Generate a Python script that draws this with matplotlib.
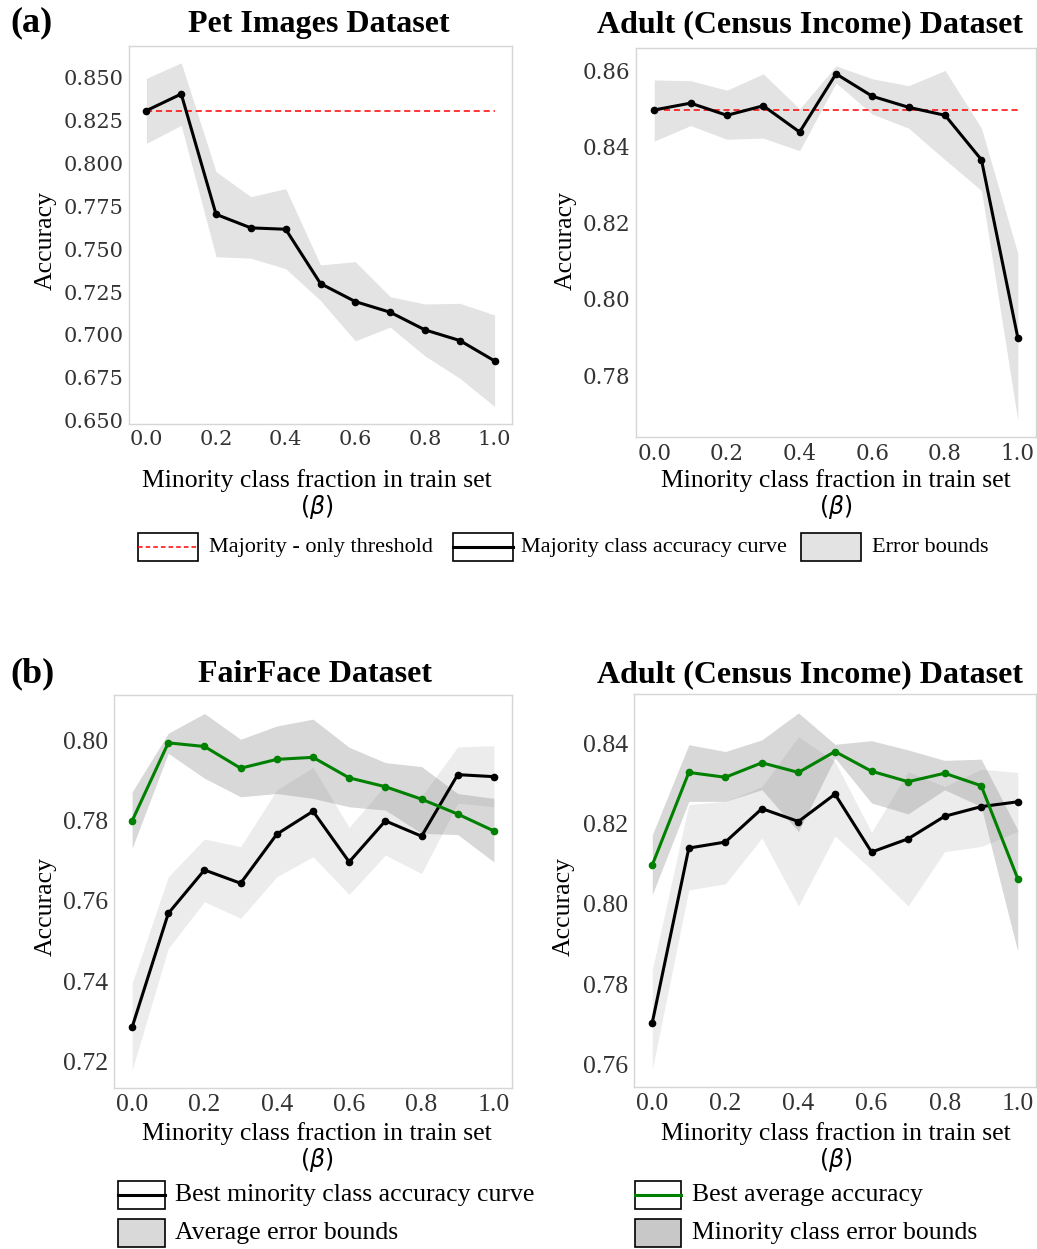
import matplotlib
matplotlib.use('Agg')
import matplotlib.pyplot as plt
from matplotlib.patches import Rectangle
from matplotlib.lines import Line2D
import numpy as np

W, H = 1037, 1249

plt.rcParams['font.family'] = ['Liberation Serif', 'DejaVu Serif']
plt.rcParams['mathtext.fontset'] = 'dejavusans'

# minority class fraction in train set
beta = [0.0, 0.1, 0.2, 0.3, 0.4, 0.5, 0.6, 0.7, 0.8, 0.9, 1.0]

# (a) Pet Images
pet_acc = [0.8308, 0.8405, 0.7703, 0.7624, 0.7616, 0.7299, 0.7194, 0.7132, 0.7029, 0.6967, 0.6848]
pet_upper = [0.8496, 0.8587, 0.7952, 0.7806, 0.7853, 0.7408, 0.7427, 0.7223, 0.7180, 0.7184, 0.7116]
pet_lower = [0.8117, 0.8222, 0.7456, 0.7447, 0.7386, 0.7200, 0.6965, 0.7045, 0.6877, 0.6747, 0.6582]
pet_threshold = 0.8305

# (a) Adult
adult_acc = [0.8497, 0.8515, 0.8483, 0.8508, 0.8439, 0.8592, 0.8533, 0.8504, 0.8483, 0.8366, 0.7898]
adult_upper = [0.8576, 0.8574, 0.8549, 0.8592, 0.8500, 0.8613, 0.8579, 0.8561, 0.8601, 0.8449, 0.8120]
adult_lower = [0.8415, 0.8456, 0.8420, 0.8423, 0.8390, 0.8568, 0.8486, 0.8449, 0.8366, 0.8285, 0.7680]
adult_threshold = 0.8497

# (b) FairFace
ff_avg = [0.7799, 0.7993, 0.7984, 0.7930, 0.7952, 0.7957, 0.7906, 0.7884, 0.7853, 0.7816, 0.7774]
ff_avg_upper = [0.7871, 0.8017, 0.8066, 0.8002, 0.8035, 0.8052, 0.7982, 0.7944, 0.7934, 0.7867, 0.7855]
ff_avg_lower = [0.7731, 0.7967, 0.7905, 0.7859, 0.7867, 0.7855, 0.7834, 0.7826, 0.7768, 0.7765, 0.7697]
ff_min = [0.7286, 0.7569, 0.7677, 0.7644, 0.7766, 0.7823, 0.7697, 0.7799, 0.7761, 0.7914, 0.7909]
ff_min_upper = [0.7395, 0.7660, 0.7754, 0.7735, 0.7876, 0.7932, 0.7783, 0.7888, 0.7860, 0.7983, 0.7986]
ff_min_lower = [0.7179, 0.7482, 0.7598, 0.7557, 0.7660, 0.7710, 0.7616, 0.7714, 0.7668, 0.7843, 0.7834]

# (b) Adult
ab_avg = [0.8097, 0.8327, 0.8315, 0.8351, 0.8327, 0.8379, 0.8330, 0.8304, 0.8325, 0.8294, 0.8063]
ab_avg_upper = [0.8172, 0.8396, 0.8379, 0.8408, 0.8475, 0.8397, 0.8406, 0.8383, 0.8357, 0.8360, 0.8184]
ab_avg_lower = [0.8023, 0.8255, 0.8255, 0.8284, 0.8180, 0.8363, 0.8251, 0.8224, 0.8284, 0.8242, 0.7882]
ab_min = [0.7705, 0.8139, 0.8154, 0.8237, 0.8205, 0.8273, 0.8129, 0.8162, 0.8218, 0.8242, 0.8254]
ab_min_upper = [0.7836, 0.8247, 0.8255, 0.8292, 0.8416, 0.8354, 0.8178, 0.8329, 0.8292, 0.8335, 0.8327]
ab_min_lower = [0.7588, 0.8035, 0.8050, 0.8164, 0.7995, 0.8169, 0.8085, 0.7995, 0.8130, 0.8143, 0.8180]

x_ticks = [0.0, 0.2, 0.4, 0.6, 0.8, 1.0]
pet_yticks = [0.650, 0.675, 0.700, 0.725, 0.750, 0.775, 0.800, 0.825, 0.850]
adult_yticks = [0.78, 0.80, 0.82, 0.84, 0.86]
ff_yticks = [0.72, 0.74, 0.76, 0.78, 0.80]
ab_yticks = [0.76, 0.78, 0.80, 0.82, 0.84]

fig = plt.figure(figsize=(W / 100, H / 100), dpi=100)


def add_axes(l, t, r, b):
    return fig.add_axes([l / W, 1 - b / H, (r - l) / W, (b - t) / H])


def put(x, y, s, **kw):
    fig.text(x / W, 1 - y / H, s, **kw)


def style(ax, yticks, yfmt, ylim, font, size):
    ax.set_xlim(-0.05, 1.05)
    ax.set_ylim(*ylim)
    ax.set_xticks(x_ticks)
    ax.set_xticklabels(['%.1f' % v for v in x_ticks])
    ax.set_yticks(yticks)
    ax.set_yticklabels([yfmt % v for v in yticks])
    ax.tick_params(length=0, pad=4, labelsize=size, labelcolor='#333333')
    for lab in ax.get_xticklabels() + ax.get_yticklabels():
        lab.set_fontfamily(font)
    for sp in ax.spines.values():
        sp.set_color('#d6d6d6')
        sp.set_linewidth(1.0)


line_kw = dict(lw=2.2, marker='o', ms=4.5)

# (a) left
ax1 = add_axes(129, 46, 512, 424)
ax1.fill_between(beta, pet_lower, pet_upper, color='gray', alpha=0.22, lw=0)
ax1.plot([beta[0], beta[-1]], [pet_threshold, pet_threshold], color='red', ls=(0, (4, 2.5)), lw=1.1)
ax1.plot(beta, pet_acc, color='black', **line_kw)
style(ax1, pet_yticks, '%.3f', (0.648, 0.8685), 'DejaVu Serif', 15)

# (a) right
ax2 = add_axes(636, 48, 1036, 437)
ax2.fill_between(beta, adult_lower, adult_upper, color='gray', alpha=0.22, lw=0)
ax2.plot([beta[0], beta[-1]], [adult_threshold, adult_threshold], color='red', ls=(0, (4, 2.5)), lw=1.1)
ax2.plot(beta, adult_acc, color='black', **line_kw)
style(ax2, adult_yticks, '%.2f', (0.7637, 0.866), 'DejaVu Serif', 15.5)

# (b) left
ax3 = add_axes(114, 695, 512, 1088)
ax3.fill_between(beta, ff_min_lower, ff_min_upper, color='gray', alpha=0.15, lw=0)
ax3.fill_between(beta, ff_avg_lower, ff_avg_upper, color='gray', alpha=0.3, lw=0)
ax3.plot(beta, ff_min, color='black', **line_kw)
ax3.plot(beta, ff_avg, color='green', **line_kw)
style(ax3, ff_yticks, '%.2f', (0.7135, 0.8112), 'Liberation Serif', 18.5)

# (b) right
ax4 = add_axes(634, 694, 1036, 1087)
ax4.fill_between(beta, ab_min_lower, ab_min_upper, color='gray', alpha=0.15, lw=0)
ax4.fill_between(beta, ab_avg_lower, ab_avg_upper, color='gray', alpha=0.3, lw=0)
ax4.plot(beta, ab_min, color='black', **line_kw)
ax4.plot(beta, ab_avg, color='green', **line_kw)
style(ax4, ab_yticks, '%.2f', (0.7545, 0.8522), 'Liberation Serif', 18.5)

# titles and labels
title_kw = dict(fontsize=23, fontweight='bold', ha='center', va='baseline')
put(319, 32, 'Pet Images Dataset', **title_kw)
put(810, 32, 'Adult (Census Income) Dataset', **title_kw)
put(315, 682, 'FairFace Dataset', **title_kw)
put(810, 682, 'Adult (Census Income) Dataset', **title_kw)
put(10, 31, '(a)', fontsize=26, fontweight='bold', ha='left', va='baseline')
put(10, 682, '(b)', fontsize=26, fontweight='bold', ha='left', va='baseline')

for (x, y) in [(46, 241), (566, 241), (46, 906), (564, 906)]:
    put(x, y, 'Accuracy', fontsize=18.5, rotation=90, ha='center', va='center')

for (x, y) in [(317, 481), (836, 481), (317, 1134), (836, 1134)]:
    put(x, y, 'Minority class fraction in train set', fontsize=18.5, ha='center', va='center')
    put(x, y + 26, r'$(\beta)$', fontsize=17, ha='center', va='center')

# legends drawn on an overlay in pixel coordinates
ov = fig.add_axes([0, 0, 1, 1])
ov.set_xlim(0, W)
ov.set_ylim(H, 0)
ov.axis('off')


def legend_box(x, y, w, h, face='white', line=None):
    ov.add_patch(Rectangle((x, y), w, h, facecolor=face, edgecolor='black', lw=1.2))
    if line is not None:
        ov.add_line(Line2D([x, x + w], [y + h / 2, y + h / 2], **line))


leg_a = 16
legend_box(138, 533, 60, 28, line=dict(color='red', ls=(0, (3, 2)), lw=1.1))
ov.text(209, 547, 'Majority - only threshold', fontsize=leg_a, va='center')
legend_box(453, 533, 60, 28, line=dict(color='black', lw=2.2))
ov.text(521, 547, 'Majority class accuracy curve', fontsize=leg_a, va='center')
legend_box(801, 533, 60, 28, face='#e3e3e3')
ov.text(872, 547, 'Error bounds', fontsize=leg_a, va='center')

leg_b = 18.5
legend_box(118, 1181, 47, 28, line=dict(color='black', lw=2.2))
ov.text(175, 1195, 'Best minority class accuracy curve', fontsize=leg_b, va='center')
legend_box(118, 1219, 47, 28, face='#d9d9d9')
ov.text(175, 1233, 'Average error bounds', fontsize=leg_b, va='center')
legend_box(635, 1181, 46, 28, line=dict(color='green', lw=2.2))
ov.text(692, 1195, 'Best average accuracy', fontsize=leg_b, va='center')
legend_box(635, 1219, 46, 28, face='#c8c8c8')
ov.text(692, 1233, 'Minority class error bounds', fontsize=leg_b, va='center')

fig.savefig('out.png', dpi=100)
